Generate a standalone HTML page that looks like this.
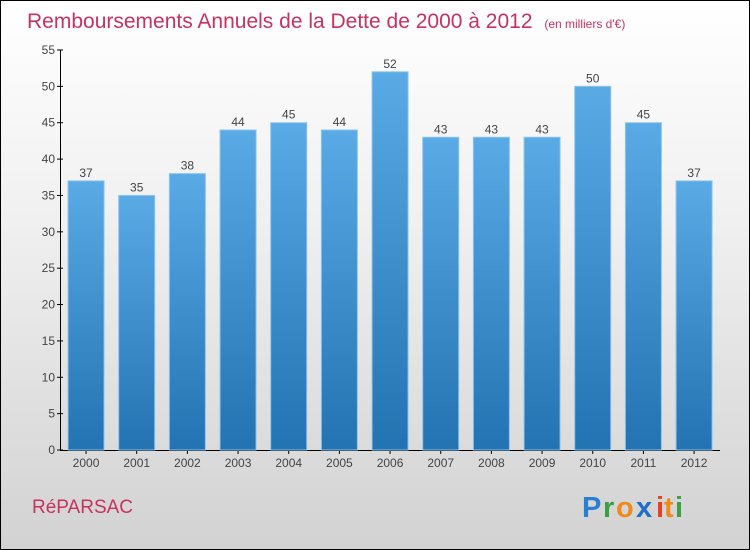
<!DOCTYPE html>
<html><head><meta charset="utf-8"><style>
body{margin:0;width:750px;height:550px;overflow:hidden;font-family:"Liberation Sans","DejaVu Sans",sans-serif}
#wrap{position:absolute;left:0;top:0;width:748px;height:548px;border:1px solid #000;background:linear-gradient(#fff 0%,#f0f0f0 40%,#d2d2d2 100%)}
</style></head><body>
<div id="wrap">
<svg width="750" height="550" style="position:absolute;left:-1px;top:-1px">
<defs><linearGradient id="bg" x1="0" y1="0" x2="0" y2="1"><stop offset="0" stop-color="#5aaae6"/><stop offset="1" stop-color="#2373b2"/></linearGradient></defs>
<text x="27" y="28" font-size="21" fill="#c8325f">Remboursements Annuels de la Dette de 2000 à 2012 <tspan font-size="12" dx="6">(en milliers d'€)</tspan></text>
<g id="axes"></g><g id="bars"></g>
<text x="32" y="513" font-size="19" fill="#c8325f">RéPARSAC</text>
<g font-size="29" font-weight="bold" font-family="'Liberation Sans',sans-serif">
<text x="582" y="517" fill="#2b7fd0">P</text><text x="603" y="517" fill="#3aa040">r</text><text x="616" y="517" fill="#f08a1a">o</text><text x="636" y="517" fill="#1e6fc8">x</text><text x="656" y="517" fill="#e8401e">i</text><text x="664" y="517" fill="#f08a1a">t</text><text x="675" y="517" fill="#3aa040">i</text></g>
</svg></div>
<script>
const categories=["2000","2001","2002","2003","2004","2005","2006","2007","2008","2009","2010","2011","2012"];
const values=[37,35,38,44,45,44,52,43,43,43,50,45,37];
const yTicks=[0,5,10,15,20,25,30,35,40,45,50,55];
const NS="http://www.w3.org/2000/svg";
const x0=60.7,step=50.67,bw=36,yTop=50,yBot=450,yMax=55;
const y=v=>yBot-(yBot-yTop)*v/yMax;
const xc=i=>x0+step*(i+0.5);
function mk(t,a,p){const e=document.createElementNS(NS,t);for(const k in a)e.setAttribute(k,a[k]);p.appendChild(e);return e;}
const ax=document.getElementById('axes'),bars=document.getElementById('bars');
let l=mk('line',{x1:60.5,y1:yTop,x2:60.5,y2:yBot,stroke:'#000'},ax);


l=mk('line',{x1:60,y1:450.5,x2:720,y2:450.5,stroke:'#000'},ax);


yTicks.forEach(v=>{
 mk('line',{x1:57,x2:63,y1:y(v),y2:y(v),stroke:'#000'},ax);
 const t=mk('text',{x:55,y:y(v)+4,'text-anchor':'end','font-size':12,fill:'#444'},ax);t.textContent=v;
 
 
});
categories.forEach((c,i)=>{
 const r=mk('rect',{x:xc(i)-bw/2,y:y(values[i]),width:bw,height:yBot-y(values[i]),fill:'url(#bg)',stroke:'#8cc4ee','stroke-width':1},bars);
 
 
 const v=mk('text',{x:xc(i),y:y(values[i])-4,'text-anchor':'middle','font-size':12,fill:'#444'},bars);v.textContent=values[i];
 
 
 mk('line',{x1:xc(i),x2:xc(i),y1:450,y2:454,stroke:'#000'},ax);
 const t=mk('text',{x:xc(i),y:467,'text-anchor':'middle','font-size':12,fill:'#444'},ax);t.textContent=c;
 
 
});
</script>
</body></html>
